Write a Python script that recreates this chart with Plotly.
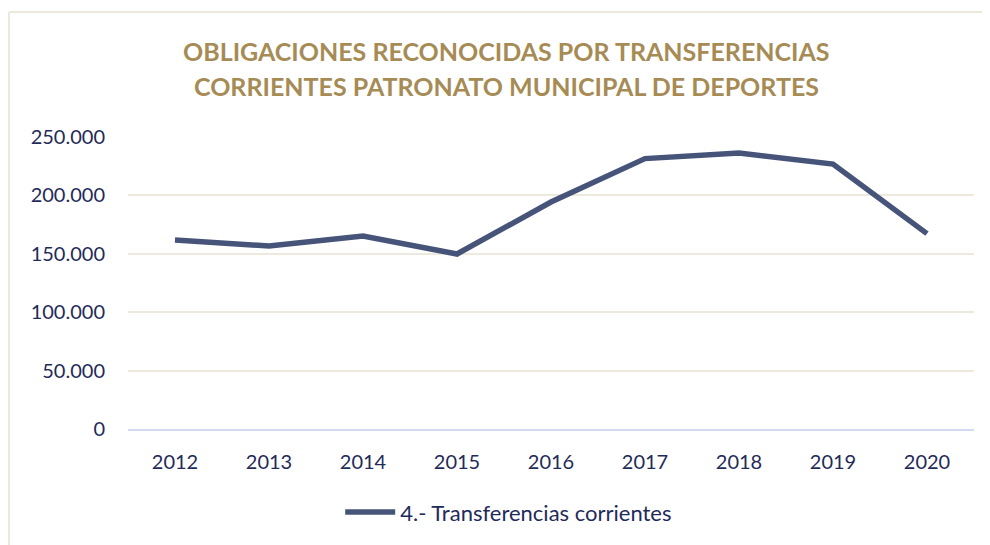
import plotly.graph_objects as go

years = ["2012", "2013", "2014", "2015", "2016", "2017", "2018", "2019", "2020"]
transferencias = [161800, 156700, 165200, 149800, 194300, 231500, 236300, 226800, 167300]
y_ticks = [0, 50000, 100000, 150000, 200000, 250000]
title_lines = ["OBLIGACIONES RECONOCIDAS POR TRANSFERENCIAS",
               "CORRIENTES PATRONATO MUNICIPAL DE DEPORTES"]

navy = "#1F2B59"
gold = "#A68B55"
grid = "#EEE9DF"
frame = "#EDE8DC"

fig = go.Figure()
fig.add_trace(go.Scatter(
    x=years, y=transferencias, mode="lines",
    name="4.- Transferencias corrientes",
    line=dict(color="#465479", width=5.5),
))

# title as two centred lines above the plot area
for txt, ypos in zip(title_lines, [1.2945, 1.1747]):
    fig.add_annotation(
        text=txt, xref="paper", yref="paper", x=0.447, y=ypos,
        xanchor="center", yanchor="middle", showarrow=False,
        font=dict(family="Lato", size=25, color=gold, weight="bold"),
    )

# page body has an 8px margin, so the figure is sized to fit the window
fig.update_layout(
    width=982, height=537,
    margin=dict(l=120, r=16, t=129, b=116, autoexpand=False),
    paper_bgcolor="white", plot_bgcolor="white",
    separators=",.",
    font=dict(family="Lato", color=navy, size=20),
    xaxis=dict(
        type="category", range=[-0.5, 8.5],
        showgrid=False, showline=True, linecolor="#D3DBF0", linewidth=2,
        ticks="", ticklabelstandoff=14, tickfont=dict(size=20, color=navy),
    ),
    yaxis=dict(
        range=[0, 250000], tickvals=y_ticks, tickformat=",.0f",
        showgrid=True, gridcolor=grid, gridwidth=2, zeroline=False,
        ticks="", ticklabelstandoff=22, tickfont=dict(size=20, color=navy),
    ),
    showlegend=True,
    legend=dict(
        orientation="h", x=0.45, xanchor="center", y=-0.285, yanchor="middle",
        font=dict(size=22, color=navy), itemwidth=50,
    ),
    shapes=[
        dict(type="line", xref="paper", yref="paper", x0=-0.1407, x1=1.05, y0=1.428, y1=1.428,
             line=dict(color=frame, width=2), layer="below"),
        dict(type="line", xref="paper", yref="paper", x0=-0.1407, x1=-0.1407, y0=1.428, y1=-0.5,
             line=dict(color=frame, width=2), layer="below"),
    ],
)

fig.write_html("out.html")
